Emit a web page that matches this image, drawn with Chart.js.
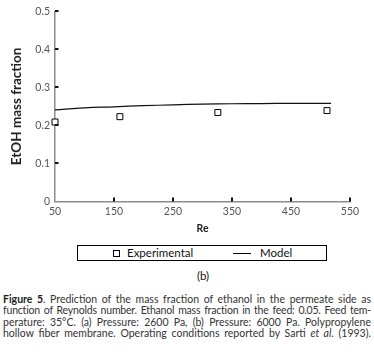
<!DOCTYPE html>
<html>
<head>
<meta charset="utf-8">
<script src="https://cdn.jsdelivr.net/npm/chart.js@4.4.1/dist/chart.umd.min.js"></script>
<style>
  body { margin: 0; background: #fff; }
  .wrap { position: relative; width: 374px; height: 352px; overflow: hidden; font-family: Lato, "Open Sans", sans-serif; }
  #reChart { position: absolute; left: 0; top: 0; }
  .legend {
    position: absolute; left: 77px; top: 245px; width: 248px; height: 14px;
    border: 1px solid #000; font-size: 11.5px; color: #111; line-height: 14px;
  }
  .legend .sq { position: absolute; left: 35px; top: 4px; width: 5px; height: 5px; border: 1px solid #000; }
  .legend .exp { position: absolute; left: 49px; top: 0; }
  .legend .ln { position: absolute; left: 155px; top: 7px; width: 18px; height: 1px; background: #000; }
  .legend .mod { position: absolute; left: 182px; top: 0; }
  .sub { position: absolute; left: 0; width: 406px; top: 269px; text-align: center; font-size: 11.5px; color: #111; }
  .caption { position: absolute; left: 3px; top: 294px; width: 368px; font-size: 10.5px; line-height: 11.3px; color: #333; }
  .caption div { text-align: justify; text-align-last: justify; white-space: nowrap; }
  .caption .tight { letter-spacing: -0.2px; }
  .caption b { color: #222; }
</style>
</head>
<body>
<div class="wrap">
  <canvas id="reChart" width="374" height="240"></canvas>
  <div class="legend">
    <span class="sq"></span><span class="exp">Experimental</span>
    <span class="ln"></span><span class="mod">Model</span>
  </div>
  <div class="sub">(b)</div>
  <div class="caption">
    <div><b>Figure 5</b>. Prediction of the mass fraction of ethanol in the permeate side as</div>
    <div class="tight">function of Reynolds number. Ethanol mass fraction in the feed: 0.05. Feed tem-</div>
    <div>perature: 35°C. (a) Pressure: 2600 Pa, (b) Pressure: 6000 Pa. Polypropylene</div>
    <div>hollow fiber membrane. Operating conditions reported by Sarti <i>et al</i>. (1993).</div>
  </div>
</div>
<script>
// experimental points
const expRe = [50, 160, 326, 511];
const expFraction = [0.209, 0.223, 0.234, 0.239];

// model curve
const modelRe = [50, 100, 150, 200, 250, 300, 350, 400, 450, 518];
const modelFraction = [0.241, 0.246, 0.249, 0.252, 0.254, 0.256, 0.257, 0.2575, 0.258, 0.258];

// axes
const xTicks = [50, 150, 250, 350, 450, 550];
const yTicks = [0, 0.1, 0.2, 0.3, 0.4, 0.5];

const tickFont = { family: 'Lato', size: 10.5 };

// short tick marks drawn inside the axes
const innerTicks = {
    id: 'innerTicks',
    afterDatasetsDraw(chart) {
        const ctx = chart.ctx;
        const x = chart.scales.x;
        const y = chart.scales.y;
        ctx.save();
        ctx.strokeStyle = '#111';
        ctx.lineWidth = 2;
        ctx.beginPath();
        yTicks.slice(1).forEach(v => {
            const py = Math.round(y.getPixelForValue(v));
            ctx.moveTo(x.left, py);
            ctx.lineTo(x.left + 3.5, py);
        });
        xTicks.slice(1).forEach(v => {
            const px = Math.round(x.getPixelForValue(v));
            ctx.moveTo(px, y.bottom);
            ctx.lineTo(px, y.bottom - 4);
        });
        ctx.stroke();
        ctx.restore();
    }
};

const ctx = document.getElementById('reChart').getContext('2d');

new Chart(ctx, {
    type: 'scatter',
    data: {
        datasets: [{
            label: 'Experimental',
            data: expRe.map((re, i) => ({ x: re, y: expFraction[i] })),
            pointStyle: 'rect',
            pointRadius: 4.2,
            backgroundColor: '#fff',
            borderColor: '#000',
            borderWidth: 1,
            clip: false
        }, {
            label: 'Model',
            data: modelRe.map((re, i) => ({ x: re, y: modelFraction[i] })),
            showLine: true,
            pointRadius: 0,
            borderColor: '#111',
            borderWidth: 1.2,
            tension: 0.4,
            clip: false
        }]
    },
    options: {
        responsive: false,
        animation: false,
        layout: { padding: { top: 6, right: 24, left: 0, bottom: 0 } },
        plugins: {
            legend: { display: false },
            tooltip: { enabled: false }
        },
        scales: {
            x: {
                type: 'linear',
                min: 50,
                max: 550,
                afterFit: scale => { scale.height = 38.5; },
                afterBuildTicks: scale => { scale.ticks = xTicks.map(v => ({ value: v })); },
                grid: { drawOnChartArea: false, drawTicks: false },
                border: { color: '#8c8c8c', width: 1.5 },
                ticks: { color: '#555', font: tickFont, padding: 4, maxRotation: 0 },
                title: {
                    display: true,
                    text: 'Re',
                    color: '#222',
                    font: { family: 'Lato', size: 10.5, weight: 'bold' },
                    padding: { top: 0, bottom: 5 }
                }
            },
            y: {
                type: 'linear',
                min: 0,
                max: 0.5,
                afterFit: scale => { scale.width = 55; },
                afterBuildTicks: scale => { scale.ticks = yTicks.map(v => ({ value: v })); },
                grid: { drawOnChartArea: false, drawTicks: false },
                border: { color: '#8c8c8c', width: 1.5 },
                ticks: {
                    color: '#555',
                    font: tickFont,
                    padding: 5,
                    callback: v => v === 0 ? '0' : v.toFixed(1)
                },
                title: {
                    display: true,
                    text: 'EtOH mass fraction',
                    color: '#222',
                    font: { family: 'Lato', size: 13.5, weight: 'bold' },
                    padding: { top: 9, bottom: 0 }
                }
            }
        }
    },
    plugins: [innerTicks]
});
</script>
</body>
</html>
